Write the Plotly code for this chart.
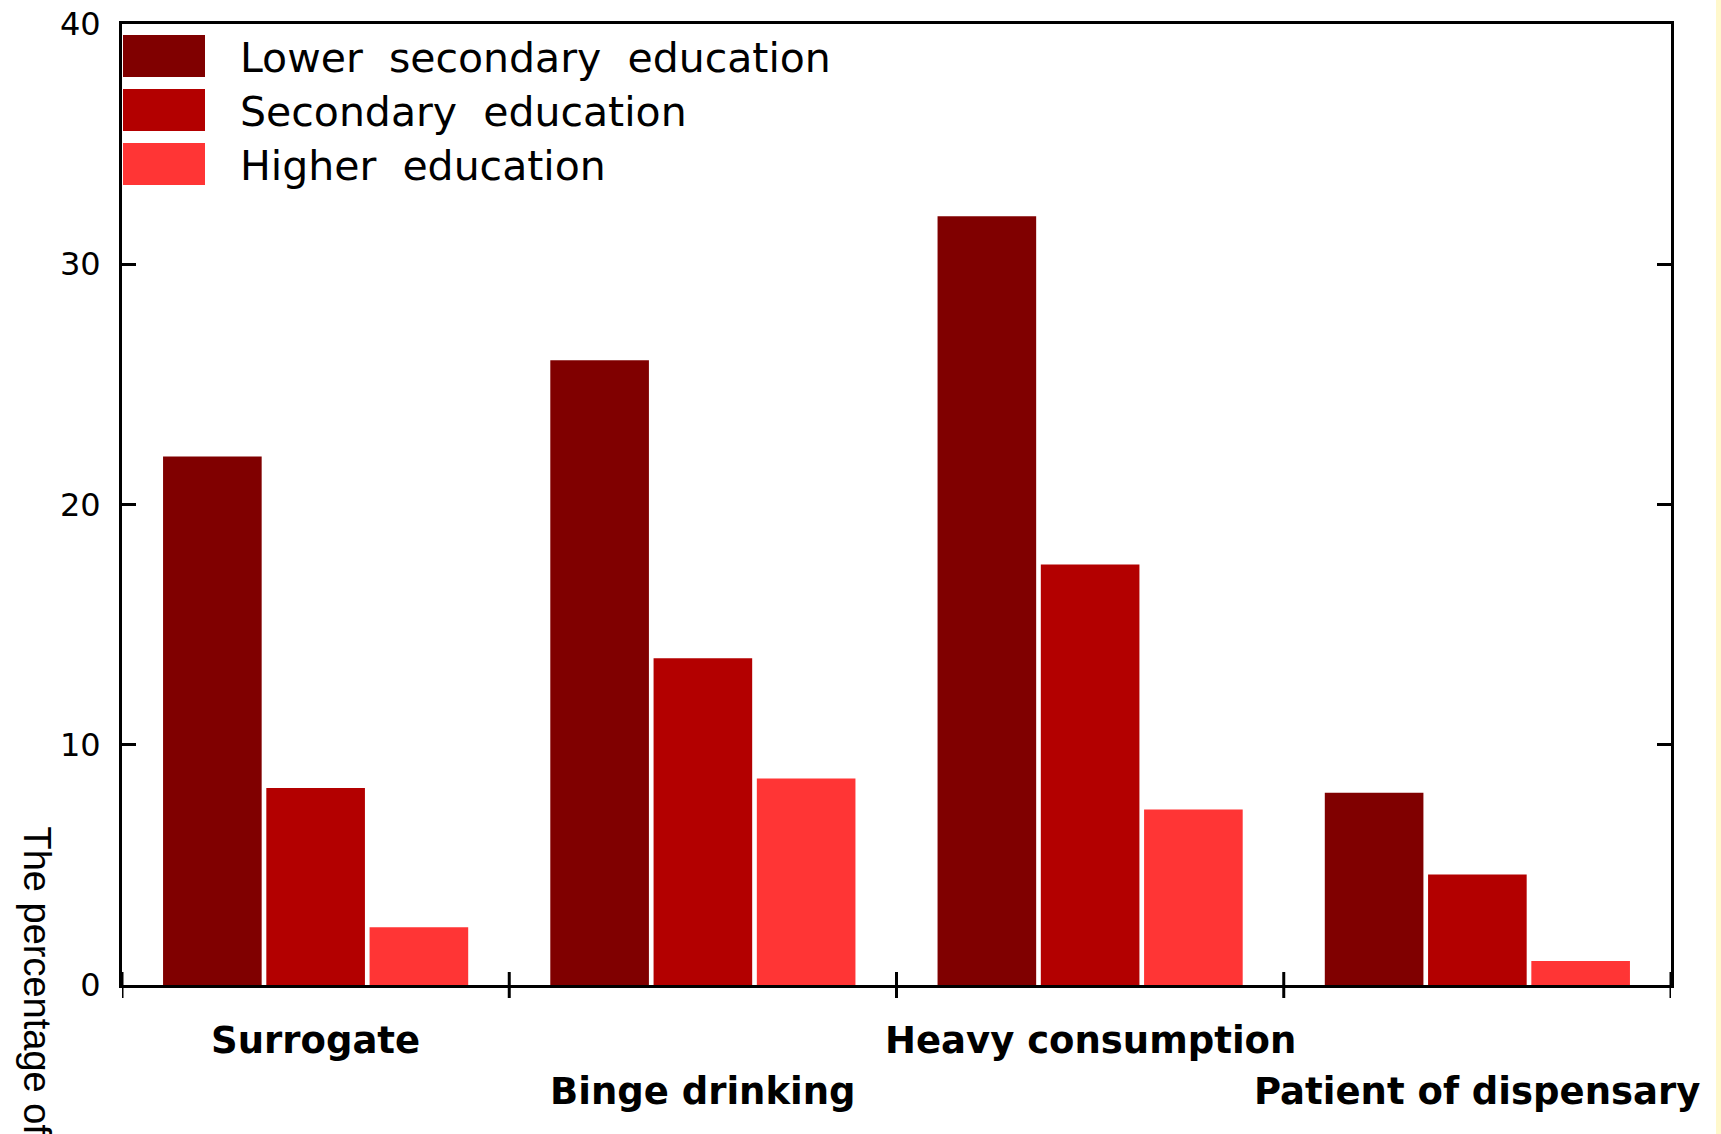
import plotly.graph_objects as go

categories = ['Surrogate', 'Binge drinking', 'Heavy consumption', 'Patient of dispensary']
series_names = ['Lower secondary education', 'Secondary education', 'Higher education']
lower_secondary = [22.0, 26.0, 32.0, 8.0]
secondary = [8.2, 13.6, 17.5, 4.6]
higher = [2.4, 8.6, 7.3, 1.0]
y_ticks = [0, 10, 20, 30, 40]
y_title = 'The percentage of'

COLORS = ['#800000', '#b30000', '#ff3535']
FONT = 'DejaVu Sans, Arial, sans-serif'
ARIAL = 'Liberation Sans, Arial, sans-serif'

fig = go.Figure()
for name, vals, col in zip(series_names, [lower_secondary, secondary, higher], COLORS):
    fig.add_trace(go.Bar(x=categories, y=vals, name=name, marker_color=col,
                         marker_line_width=0, showlegend=False))

# crossing tick marks at category boundaries
for i in range(len(categories) + 1):
    fig.add_shape(type='line', xref='x', yref='paper', x0=i - 0.5, x1=i - 0.5,
                  y0=-0.0135, y1=0.0135, line=dict(color='black', width=3))

# staggered category labels
for i, c in enumerate(categories):
    fig.add_annotation(x=c, xref='x', y=0, yref='paper', text='<b>%s</b>' % c,
                       showarrow=False, yanchor='middle', yshift=-55 if i % 2 == 0 else -106,
                       font=dict(family=FONT, size=37, color='black'))

# hand-drawn legend with large swatches
for i, (name, col) in enumerate(zip(series_names, COLORS)):
    yc = 56 + 54 * i
    fig.add_shape(type='rect', xref='paper', yref='paper',
                  x0=(123 - 122) / 1549, x1=(205 - 122) / 1549,
                  y0=(985 - (yc + 21)) / 961, y1=(985 - (yc - 21)) / 961,
                  fillcolor=col, line_width=0)
    fig.add_annotation(xref='paper', yref='paper', x=(238 - 122) / 1549, y=(985 - yc - 2) / 961,
                       text=name.replace(' ', '\u00a0 '), showarrow=False,
                       xanchor='left', yanchor='middle',
                       font=dict(family=FONT, size=41, color='black'))

# y axis title, rotated and running off the bottom of the page
fig.add_annotation(xref='paper', yref='paper', x=(37 - 122) / 1549, y=(985 - 824) / 961,
                   text=y_title, textangle=90, showarrow=False,
                   xanchor='center', yanchor='top',
                   font=dict(family=ARIAL, size=38, color='black'))

# thin yellow strip on the right edge
fig.add_shape(type='rect', xref='paper', yref='paper', x0=(1716 - 122) / 1549, x1=1.1,
              y0=-0.3, y1=1.1, fillcolor='#fff8cc', line_width=0, layer='below')

fig.update_layout(
    width=1721, height=1134,
    margin=dict(l=122, r=50, t=24, b=149, autoexpand=False),
    barmode='group', bargap=0.2, bargroupgap=0.045,
    paper_bgcolor='white', plot_bgcolor='white',
    font=dict(family=FONT, color='black'),
    xaxis=dict(range=[-0.5, 3.5], showticklabels=False, ticks='', showgrid=False,
               showline=True, linecolor='black', linewidth=3, mirror=True, zeroline=False,
               automargin=False),
    yaxis=dict(range=[0, 40], tickvals=y_ticks, ticks='inside', ticklen=14, tickwidth=3,
               tickcolor='black', showgrid=False, zeroline=False, showline=True,
               linecolor='black', linewidth=3, mirror='ticks', ticklabelstandoff=12,
               automargin=False, tickfont=dict(family=FONT, size=32, color='black')),
)

fig.write_html('out.html', config={'displayModeBar': False},
               post_script="document.body.style.margin='0';")
